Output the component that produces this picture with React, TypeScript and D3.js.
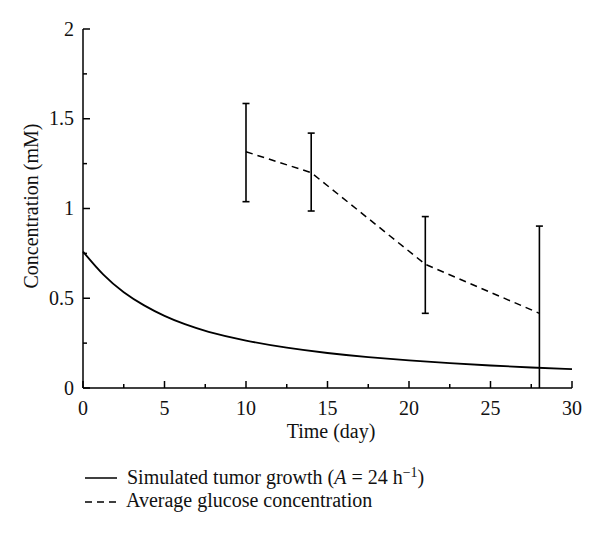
import React from "react";
import * as d3 from "d3";

const simTime = [0, 1.25, 2.5, 3.75, 5, 6.25, 7.5, 10, 12.5, 15, 17.5, 20, 22.5, 25, 27.5, 30];
const simConc = [0.76, 0.625, 0.53, 0.458, 0.4, 0.354, 0.316, 0.262, 0.223, 0.194, 0.171, 0.153, 0.138, 0.125, 0.114, 0.105];

const glucTime = [10, 14, 21, 28];
const glucMean = [1.316, 1.2, 0.689, 0.416];
const glucUpper = [1.585, 1.42, 0.955, 0.902];
const glucLower = [1.038, 0.986, 0.416, 0.0];

const xMajor = [0, 5, 10, 15, 20, 25, 30];
const xMinor = [2.5, 7.5, 12.5, 17.5, 22.5, 27.5];
const yMajor = [0, 0.5, 1, 1.5, 2];
const yMinor = [0.25, 0.75, 1.25, 1.75];
const yLabels = ["0", "0.5", "1", "1.5", "2"];

const FONT = "'Liberation Serif', 'DejaVu Serif', serif";
const FS = 20;

export default function App() {
  const W = 600, H = 533;
  const x = d3.scaleLinear().domain([0, 30]).range([83, 572]);
  const y = d3.scaleLinear().domain([0, 2]).range([388, 29]);
  const simLine = d3
    .line<number>()
    .x((_, i) => x(simTime[i]))
    .y((d) => y(d))
    .curve(d3.curveBasis)(simConc) as string;
  const glucLine = d3
    .line<number>()
    .x((_, i) => x(glucTime[i]))
    .y((d) => y(d))(glucMean) as string;
  const x0 = x(0), y0 = y(0);
  return (
    <svg width={W} height={H} style={{ position: "absolute", left: 0, top: 0, background: "#fff" }}>
      <rect width={W} height={H} fill="#fff" />
      <line x1={x0} y1={y(2)} x2={x0} y2={y0} stroke="#000" strokeWidth={1.5} />
      <line x1={x0} y1={y0} x2={x(30)} y2={y0} stroke="#000" strokeWidth={1.5} />
      {xMajor.map((v) => (
        <line key={"xm" + v} x1={x(v)} x2={x(v)} y1={y0} y2={y0 - 7} stroke="#000" strokeWidth={1.5} />
      ))}
      {xMinor.map((v) => (
        <line key={"xn" + v} x1={x(v)} x2={x(v)} y1={y0} y2={y0 - 4} stroke="#000" strokeWidth={1.5} />
      ))}
      {yMajor.map((v) => (
        <line key={"ym" + v} x1={x0} x2={x0 + 7} y1={y(v)} y2={y(v)} stroke="#000" strokeWidth={1.5} />
      ))}
      {yMinor.map((v) => (
        <line key={"yn" + v} x1={x0} x2={x0 + 4} y1={y(v)} y2={y(v)} stroke="#000" strokeWidth={1.5} />
      ))}
      {xMajor.map((v) => (
        <text key={"xl" + v} x={x(v)} y={415} textAnchor="middle" fontFamily={FONT} fontSize={FS} fill="#111">
          {v}
        </text>
      ))}
      {yMajor.map((v, i) => (
        <text key={"yl" + v} x={74} y={y(v) + 6.5} textAnchor="end" fontFamily={FONT} fontSize={FS} fill="#111">
          {yLabels[i]}
        </text>
      ))}
      <text x={331} y={438} textAnchor="middle" fontFamily={FONT} fontSize={FS} fill="#111">
        Time (day)
      </text>
      <text
        transform={`translate(38,206) rotate(-90)`}
        textAnchor="middle"
        fontFamily={FONT}
        fontSize={FS}
        fill="#111"
      >
        Concentration (mM)
      </text>
      <path d={simLine} fill="none" stroke="#000" strokeWidth={1.8} />
      <path d={glucLine} fill="none" stroke="#000" strokeWidth={1.5} strokeDasharray="7,5" />
      {glucTime.map((t, i) => (
        <g key={"eb" + t}>
          <line x1={x(t)} x2={x(t)} y1={y(glucUpper[i])} y2={y(glucLower[i])} stroke="#000" strokeWidth={1.6} />
          <line x1={x(t) - 3.5} x2={x(t) + 3.5} y1={y(glucUpper[i])} y2={y(glucUpper[i])} stroke="#000" strokeWidth={1.6} />
          {glucLower[i] > 0 && (
            <line x1={x(t) - 3.5} x2={x(t) + 3.5} y1={y(glucLower[i])} y2={y(glucLower[i])} stroke="#000" strokeWidth={1.6} />
          )}
        </g>
      ))}
      <line x1={85} x2={117} y1={478} y2={478} stroke="#000" strokeWidth={1.5} />
      <text x={127} y={484} fontFamily={FONT} fontSize={FS} fill="#111">
        Simulated tumor growth (<tspan fontStyle="italic">A</tspan> = 24 h
        <tspan dy={-7} fontSize={14}>−1</tspan>
        <tspan dy={7}>)</tspan>
      </text>
      <line x1={85} x2={117} y1={502} y2={502} stroke="#000" strokeWidth={1.5} strokeDasharray="7,5" />
      <text x={126} y={507} fontFamily={FONT} fontSize={FS} fill="#111">
        Average glucose concentration
      </text>
    </svg>
  );
}
